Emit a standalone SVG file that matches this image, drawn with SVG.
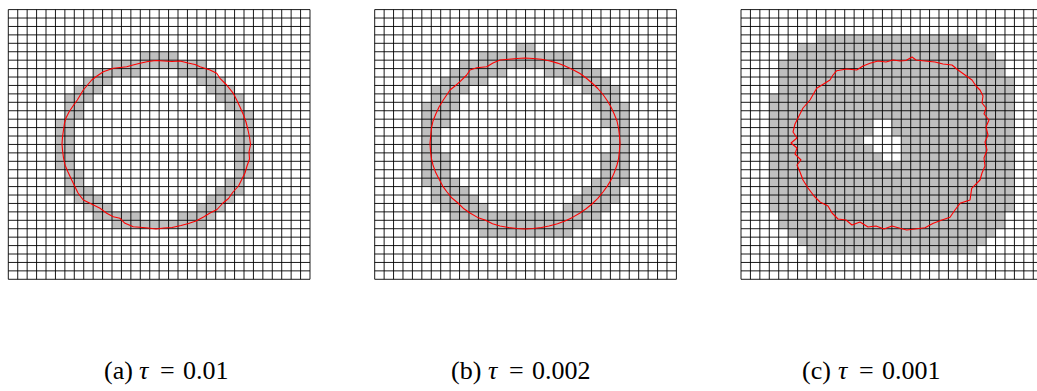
<svg xmlns="http://www.w3.org/2000/svg" xmlns:xlink="http://www.w3.org/1999/xlink" width="1037" height="391" viewBox="0 0 1037 391">
<style>
.grid{stroke:#000;stroke-width:0.9;fill:none}
.cells rect{fill:#bfbfbf}
.curve{fill:none;stroke:#ff0000;stroke-width:1.1;stroke-linejoin:round}
.cap{font-family:"Liberation Serif","Times New Roman",serif;font-size:26px;fill:#000}
.it{font-style:italic}
</style>
<defs>
<path id="gl" vector-effect="non-scaling-stroke" d="M0 0V32M1 0V32M2 0V32M3 0V32M4 0V32M5 0V32M6 0V32M7 0V32M8 0V32M9 0V32M10 0V32M11 0V32M12 0V32M13 0V32M14 0V32M15 0V32M16 0V32M17 0V32M18 0V32M19 0V32M20 0V32M21 0V32M22 0V32M23 0V32M24 0V32M25 0V32M26 0V32M27 0V32M28 0V32M29 0V32M30 0V32M31 0V32M32 0V32M0 0H32M0 1H32M0 2H32M0 3H32M0 4H32M0 5H32M0 6H32M0 7H32M0 8H32M0 9H32M0 10H32M0 11H32M0 12H32M0 13H32M0 14H32M0 15H32M0 16H32M0 17H32M0 18H32M0 19H32M0 20H32M0 21H32M0 22H32M0 23H32M0 24H32M0 25H32M0 26H32M0 27H32M0 28H32M0 29H32M0 30H32M0 31H32M0 32H32"/>
</defs>
<rect width="1037" height="391" fill="#fff"/>

<g id="panel-a">
<g transform="translate(8.3 9.6) scale(9.428 8.428)">
<g class="cells">
<rect x="14" y="5" width="4" height="1"/>
<rect x="11" y="6" width="10" height="1"/>
<rect x="9" y="7" width="5" height="1"/><rect x="18" y="7" width="4" height="1"/>
<rect x="8" y="8" width="3" height="1"/><rect x="20" y="8" width="3" height="1"/>
<rect x="7" y="9" width="3" height="1"/><rect x="21" y="9" width="3" height="1"/>
<rect x="6" y="10" width="3" height="1"/><rect x="22" y="10" width="3" height="1"/>
<rect x="6" y="11" width="2" height="1"/><rect x="23" y="11" width="2" height="1"/>
<rect x="6" y="12" width="2" height="1"/><rect x="24" y="12" width="2" height="1"/>
<rect x="5" y="13" width="2" height="6"/><rect x="24" y="13" width="2" height="6"/>
<rect x="6" y="19" width="2" height="1"/><rect x="24" y="19" width="2" height="1"/>
<rect x="6" y="20" width="2" height="1"/><rect x="23" y="20" width="2" height="1"/>
<rect x="6" y="21" width="3" height="1"/><rect x="22" y="21" width="3" height="1"/>
<rect x="7" y="22" width="3" height="1"/><rect x="21" y="22" width="3" height="1"/>
<rect x="8" y="23" width="3" height="1"/><rect x="20" y="23" width="3" height="1"/>
<rect x="9" y="24" width="5" height="1"/><rect x="18" y="24" width="4" height="1"/>
<rect x="11" y="25" width="10" height="1"/>
</g>
<use xlink:href="#gl" class="grid"/>
</g>
<path class="curve" d="M250.5 144.5L249 152L249.5 159L247 166L245 173L241.5 180L238.5 186L233 192L228.5 198.5L223 203L217 209.5L210 213L203.5 217L196 221L188.5 223.5L181 225.5L172 227.5L164 228L156 229L148 228L140 227.3L133.3 226.7L125 223.3L120 218.3L113.3 216.7L106.7 213.3L100 208.3L90 203.3L83.3 200L78 193L75 186.7L71.7 180L68 172L65 165L63.5 158L62.5 150L62 144L62.5 137L63.5 130L64.5 123L66 118L69 112L73 106L77.3 100L83.3 90L91.7 80L97 76L103.3 71.7L113.3 68.3L120 67.5L126.7 66.7L133 65L140 63.3L148 61.5L156 60.5L164 61L172 61.5L180 61L188 63L195 64.5L200 66.7L210 70L216.7 73.3L220 78.3L226.7 85L233.3 93.3L236.7 100L240 107L243.5 115L246 122L248 130L249.5 137Z"/>
</g>

<g id="panel-b">
<g transform="translate(374.7 9.6) scale(9.428 8.428)">
<g class="cells">
<rect x="15" y="4" width="2" height="1"/>
<rect x="11" y="5" width="10" height="1"/>
<rect x="9" y="6" width="14" height="1"/>
<rect x="8" y="7" width="6" height="1"/><rect x="18" y="7" width="6" height="1"/>
<rect x="7" y="8" width="5" height="1"/><rect x="20" y="8" width="5" height="1"/>
<rect x="6" y="9" width="4" height="1"/><rect x="22" y="9" width="4" height="1"/>
<rect x="6" y="10" width="3" height="1"/><rect x="23" y="10" width="3" height="1"/>
<rect x="5" y="11" width="4" height="1"/><rect x="23" y="11" width="4" height="1"/>
<rect x="5" y="12" width="3" height="2"/><rect x="24" y="12" width="3" height="2"/>
<rect x="5" y="14" width="2" height="3"/><rect x="25" y="14" width="2" height="3"/>
<rect x="5" y="17" width="3" height="3"/><rect x="24" y="17" width="3" height="3"/>
<rect x="5" y="20" width="4" height="1"/><rect x="23" y="20" width="4" height="1"/>
<rect x="6" y="21" width="4" height="1"/><rect x="22" y="21" width="4" height="1"/>
<rect x="6" y="22" width="5" height="1"/><rect x="21" y="22" width="5" height="1"/>
<rect x="7" y="23" width="5" height="1"/><rect x="20" y="23" width="5" height="1"/>
<rect x="8" y="24" width="16" height="1"/>
<rect x="10" y="25" width="12" height="1"/>
<rect x="11" y="26" width="10" height="1"/>
</g>
<use xlink:href="#gl" class="grid"/>
</g>
<path class="curve" d="M620 143.4L619.5 150L618.6 158.3L617 165L614.3 172.6L611 180L607.3 186.1L603 192L597.8 198.3L592 204L586.1 208.8L580 213L572.5 217.4L565 221L557.5 223.7L549 226L541.5 227.5L533 228.5L525 229L517 228.5L508.5 227.5L500 226L492.5 223.7L485 220L477.5 217.4L470 213L463.9 208.8L458 203L452.2 198.3L447 192L442.7 186.1L439 179L435.7 172.6L433 165L431.4 158.3L430.5 151L430 143.4L430.7 136L431.4 128.5L433 121L435.7 114.2L439 107L443.3 100L450 90L455 86L460 81.7L466.7 75L470 70L476.7 67.7L486.7 66.7L493 63L500 60L508.5 59.3L517 58.5L525 58L533 58.5L541.5 59.3L550 61L557.5 63.1L565 66L572.5 69.4L580 73.5L586.1 78L592 83L597.8 88.5L603 94.5L607.3 100.7L611 107L614.3 114.2L617 121L618.6 128.5L619.5 136Z"/>
</g>

<g id="panel-c">
<g transform="translate(741 9.6) scale(9.428 8.428)">
<g class="cells">
<rect x="8" y="3" width="17" height="1"/>
<rect x="6" y="4" width="20" height="1"/>
<rect x="5" y="5" width="22" height="1"/>
<rect x="4" y="6" width="24" height="2"/>
<rect x="4" y="8" width="25" height="2"/>
<rect x="3" y="10" width="26" height="3"/>
<rect x="3" y="13" width="11" height="2"/><rect x="16" y="13" width="13" height="2"/>
<rect x="3" y="15" width="10" height="1"/><rect x="17" y="15" width="12" height="1"/>
<rect x="3" y="16" width="11" height="1"/><rect x="17" y="16" width="12" height="1"/>
<rect x="3" y="17" width="12" height="1"/><rect x="17" y="17" width="12" height="1"/>
<rect x="3" y="18" width="26" height="6"/>
<rect x="4" y="24" width="24" height="2"/>
<rect x="5" y="26" width="22" height="1"/>
<rect x="6" y="27" width="20" height="1"/>
<rect x="7" y="28" width="18" height="1"/>
</g>
<use xlink:href="#gl" class="grid"/>
</g>
<path class="curve" d="M870 63.3L878 61L886 62L893 60L900 61L906 60.5L912 57L916 60L925 61L935 62L943 64L952 65L958 70L965 75L972 80L976 86L980 90L983 96L982 103L986 108L984 114L989 120L986 127L988 135L985 142L987 150L984 158L985 166L982 173L980 180L971.7 188.3L970 200L960 203.3L955 210L950 217.3L942 220L933.3 223.3L925 227.7L915 229L906.7 230L900 228.3L892 226L884 229L876 226L868 227L860 222L852 225L846 220L838 219L832 213L828 206L820 202L814 196L808 188L803 180L800 172L797 165L801 160L795 154L797 148L791 143L797 138L793 132L795 124L799 116L803 108L810 100L816.7 88.3L830 80L833 75L836.7 70.7L846.7 69L856.7 70L863 66Z"/>
</g>

<g id="captions" class="cap">
<text x="104" y="379">(a)</text><text x="139" y="379" class="it">τ</text><text x="160" y="379">=</text><text x="183" y="379">0.01</text>
<text x="451" y="379">(b)</text><text x="488" y="379" class="it">τ</text><text x="509" y="379">=</text><text x="532" y="379">0.002</text>
<text x="802" y="379">(c)</text><text x="838" y="379" class="it">τ</text><text x="859" y="379">=</text><text x="882" y="379">0.001</text>
</g>
</svg>
